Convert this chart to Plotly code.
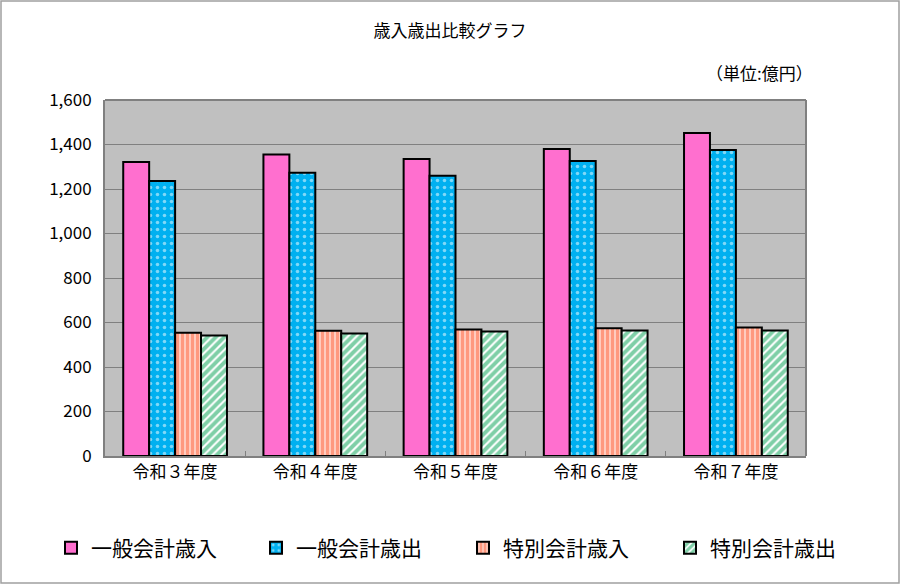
import plotly.graph_objects as go

years = ["令和３年度", "令和４年度", "令和５年度", "令和６年度", "令和７年度"]
general_in = [1321, 1355, 1335, 1380, 1452]
general_out = [1236, 1273, 1260, 1326, 1375]
special_in = [554, 563, 568, 574, 577]
special_out = [542, 551, 559, 564, 564]

font = "Noto Sans CJK JP"

fig = go.Figure()
fig.add_trace(go.Bar(name="一般会計歳入", x=years, y=general_in, legend="legend",
                     marker=dict(color="#FF6FCF", line=dict(color="black", width=2))))
fig.add_trace(go.Bar(name="一般会計歳出", x=years, y=general_out, legend="legend2",
                     marker=dict(color="#00B0F0", line=dict(color="black", width=2),
                                 pattern=dict(shape=".", fgcolor="white", bgcolor="#00B0F0",
                                              size=7, solidity=0.2))))
fig.add_trace(go.Bar(name="特別会計歳入", x=years, y=special_in, legend="legend3",
                     marker=dict(color="#FF3300", line=dict(color="black", width=2),
                                 pattern=dict(shape="|", fgcolor="#FF3300", bgcolor="white",
                                              size=5, solidity=0.8))))
fig.add_trace(go.Bar(name="特別会計歳出", x=years, y=special_out, legend="legend4",
                     marker=dict(color="#00A050", line=dict(color="black", width=2),
                                 pattern=dict(shape="/", fgcolor="#00A050", bgcolor="white",
                                              size=6, solidity=0.65))))

L, R, T, B = 105, 94, 100, 128
pw, ph = 900 - L - R, 584 - T - B

def legend_at(px):
    # one legend per series, placed like the original's spread-out key
    return dict(orientation="h", x=(px - 20 - L) / pw, xanchor="left",
                y=-(548 - 456) / ph, yanchor="middle", font=dict(size=21),
                itemwidth=30, bgcolor="rgba(0,0,0,0)")

fig.update_layout(
    width=900, height=584,
    margin=dict(l=L, r=R, t=T, b=B, autoexpand=False),
    paper_bgcolor="white", plot_bgcolor="#C0C0C0",
    font=dict(family=font, color="black", size=17),
    barmode="group", bargap=0.26, bargroupgap=0,
    title=dict(text="歳入歳出比較グラフ", x=0.5, xanchor="center", y=0.947, yanchor="middle",
               font=dict(size=17)),
    legend=legend_at(71), legend2=legend_at(276),
    legend3=legend_at(483), legend4=legend_at(690),
    showlegend=True,
)
fig.update_yaxes(range=[0, 1600], dtick=200, tickformat=",", showgrid=True,
                 gridcolor="#808080", gridwidth=1, showline=True, linecolor="#808080",
                 linewidth=2, ticks="", tickfont=dict(size=17), zeroline=False,
                 ticklabelstandoff=8)
fig.update_xaxes(showline=True, linecolor="#808080", linewidth=2, tickson="boundaries",
                 ticks="inside", ticklen=5, tickcolor="#808080", tickfont=dict(size=17))
fig.add_annotation(text="（単位:億円）", xref="paper", yref="paper", x=(815 - L) / pw,
                   y=(456 - 72) / ph, xanchor="right", yanchor="middle", showarrow=False,
                   font=dict(size=17))
fig.add_shape(type="line", xref="paper", yref="paper", x0=1, x1=1, y0=0, y1=1,
              line=dict(color="#808080", width=2))
fig.add_shape(type="line", xref="paper", yref="paper", x0=0, x1=1, y0=1, y1=1,
              line=dict(color="#808080", width=2))
fig.add_shape(type="rect", xref="paper", yref="paper",
              x0=-(L - 1) / pw, x1=(900 - L - 1) / pw,
              y0=-(B - 1) / ph, y1=(584 - B - 1) / ph,
              line=dict(color="#A0A0A0", width=1.5))

fig.write_html("out.html", config={"displayModeBar": False},
               post_script="document.body.style.margin='0px';")
